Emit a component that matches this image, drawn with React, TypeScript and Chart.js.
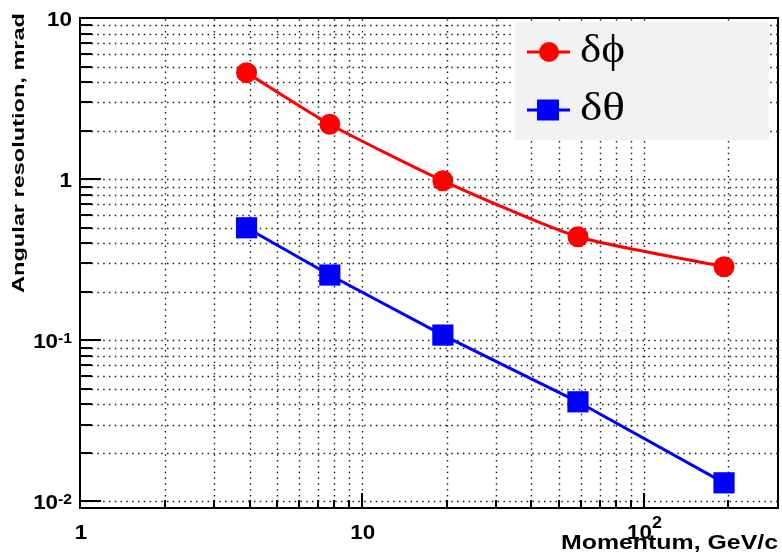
import React, { useEffect, useRef } from 'react';
import { Chart, registerables } from 'chart.js';

Chart.register(...registerables);

// ---- data ----
const momentum = [3.9, 7.7, 19.4, 58.5, 193];
const dPhi = [4.58, 2.19, 0.977, 0.439, 0.286];
const dTheta = [0.499, 0.254, 0.1077, 0.0415, 0.01304];
const seriesLabels = ['δϕ', 'δθ'];
const seriesColors = ['#ff0000', '#0000ff'];

const xTickValues = [1, 10, 100];
const xTickBase = ['1', '10', '10'];
const xTickSup = ['', '', '2'];
const yTickValues = [10, 1, 0.1, 0.01];
const yTickBase = ['10', '1', '10', '10'];
const yTickSup = ['', '', '-1', '-2'];

const xTitle = 'Momentum, GeV/c';
const yTitle = 'Angular resolution, mrad';

const X_MIN = 1;
const X_MAX = 300;
const Y_MIN = 0.0091;
const Y_MAX = 10;

const SANS = '"Liberation Sans", Arial, Helvetica, sans-serif';
const SERIF = '"Liberation Serif", "DejaVu Serif", "Times New Roman", serif';

function logGridValues(min: number, max: number): number[] {
  const out: number[] = [];
  for (let k = -4; k <= 4; k++) {
    for (let m = 1; m <= 9; m++) {
      const v = m * Math.pow(10, k);
      if (v > min * 1.0001 && v < max * 0.9999) out.push(v);
    }
  }
  return out;
}

function isMajor(v: number): boolean {
  const l = Math.log10(v);
  return Math.abs(l - Math.round(l)) < 1e-6;
}

function stretchedText(
  ctx: CanvasRenderingContext2D,
  text: string,
  font: string,
  x: number,
  y: number,
  targetWidth: number,
  rotate = 0
) {
  ctx.save();
  ctx.font = font;
  const w = ctx.measureText(text).width;
  ctx.translate(x, y);
  if (rotate) ctx.rotate(rotate);
  ctx.scale(targetWidth / w, 1);
  ctx.textAlign = 'left';
  ctx.textBaseline = 'alphabetic';
  ctx.fillStyle = '#000';
  ctx.fillText(text, 0, 0);
  ctx.restore();
}

const LABEL_SX = 1.12;

function tickLabelWidth(ctx: CanvasRenderingContext2D, base: string, sup: string, supPx: number) {
  ctx.font = `bold 20px ${SANS}`;
  let w = ctx.measureText(base).width;
  if (sup) {
    ctx.font = `bold ${supPx}px ${SANS}`;
    w += ctx.measureText(sup).width;
  }
  return w * LABEL_SX;
}

function drawTickLabel(
  ctx: CanvasRenderingContext2D,
  base: string,
  sup: string,
  left: number,
  baseline: number,
  supPx: number,
  supRaise: number
) {
  ctx.save();
  ctx.translate(left, baseline);
  ctx.scale(LABEL_SX, 1);
  ctx.fillStyle = '#000';
  ctx.textAlign = 'left';
  ctx.textBaseline = 'alphabetic';
  ctx.font = `bold 20px ${SANS}`;
  ctx.fillText(base, 0, 0);
  const bw = ctx.measureText(base).width;
  if (sup) {
    ctx.font = `bold ${supPx}px ${SANS}`;
    ctx.fillText(sup, bw, -supRaise);
  }
  ctx.restore();
}

const rootStylePlugin = {
  id: 'rootStyle',
  beforeDatasetsDraw(chart: any) {
    const ctx: CanvasRenderingContext2D = chart.ctx;
    const { left, right, top, bottom } = chart.chartArea;
    const xs = chart.scales.x;
    const ys = chart.scales.y;
    ctx.save();
    ctx.strokeStyle = '#1a1a1a';
    ctx.lineWidth = 1.4;
    ctx.setLineDash([1.5, 4.3]);
    for (const v of logGridValues(X_MIN, X_MAX)) {
      const px = Math.round(xs.getPixelForValue(v)) + 0.5;
      ctx.beginPath();
      ctx.moveTo(px, bottom);
      ctx.lineTo(px, top);
      ctx.stroke();
    }
    for (const v of logGridValues(Y_MIN, Y_MAX)) {
      const py = Math.round(ys.getPixelForValue(v)) + 0.5;
      ctx.beginPath();
      ctx.moveTo(left, py);
      ctx.lineTo(right, py);
      ctx.stroke();
    }
    ctx.restore();

    // legend box (covers grid)
    ctx.save();
    ctx.fillStyle = '#f2f2f2';
    ctx.fillRect(515, 22, 254, 118);
    ctx.restore();
  },
  afterDatasetsDraw(chart: any) {
    const ctx: CanvasRenderingContext2D = chart.ctx;
    const { left, right, top, bottom } = chart.chartArea;
    const xs = chart.scales.x;
    const ys = chart.scales.y;

    // legend entries
    const legendRows = [52, 110];
    seriesLabels.forEach((lab, i) => {
      const cy = legendRows[i];
      ctx.save();
      ctx.strokeStyle = seriesColors[i];
      ctx.fillStyle = seriesColors[i];
      ctx.lineWidth = 3;
      ctx.beginPath();
      ctx.moveTo(527, cy);
      ctx.lineTo(570, cy);
      ctx.stroke();
      if (i === 0) {
        ctx.beginPath();
        ctx.arc(549, cy, 10, 0, Math.PI * 2);
        ctx.fill();
      } else {
        ctx.fillRect(537, cy - 10.5, 22, 21);
      }
      ctx.restore();
      stretchedText(ctx, lab, `40px ${SERIF}`, 580, cy + 9.5, 45);
    });

    // frame
    ctx.save();
    ctx.strokeStyle = '#000';
    ctx.lineWidth = 2;
    ctx.setLineDash([]);
    ctx.strokeRect(left, top, right - left, bottom - top);

    // tick marks
    for (const v of logGridValues(Y_MIN, Y_MAX).concat(yTickValues)) {
      const py = Math.round(ys.getPixelForValue(v));
      if (py < top || py > bottom) continue;
      const len = isMajor(v) ? 21 : 12;
      ctx.beginPath();
      ctx.moveTo(left, py);
      ctx.lineTo(left + len, py);
      ctx.stroke();
    }
    for (const v of logGridValues(X_MIN, X_MAX).concat(xTickValues)) {
      const px = Math.round(xs.getPixelForValue(v));
      if (px < left || px > right) continue;
      const len = isMajor(v) ? 15 : 8;
      ctx.beginPath();
      ctx.moveTo(px, bottom);
      ctx.lineTo(px, bottom - len);
      ctx.stroke();
    }
    ctx.restore();

    // y tick labels (right aligned)
    yTickValues.forEach((v, i) => {
      const py = ys.getPixelForValue(v);
      const w = tickLabelWidth(ctx, yTickBase[i], yTickSup[i], 14);
      drawTickLabel(ctx, yTickBase[i], yTickSup[i], 72 - w, py + 7.5, 14, 5);
    });
    // x tick labels (centered)
    xTickValues.forEach((v, i) => {
      const px = xs.getPixelForValue(v);
      const w = tickLabelWidth(ctx, xTickBase[i], xTickSup[i], 16);
      drawTickLabel(ctx, xTickBase[i], xTickSup[i], px - w / 2 + 1, 539, 16, 11.5);
    });

    // axis titles
    stretchedText(ctx, xTitle, `bold 20px ${SANS}`, 561, 548.5, 217);
    stretchedText(ctx, yTitle, `bold 17px ${SANS}`, 24, 293, 280, -Math.PI / 2);
  },
};

export default function App() {
  const ref = useRef<HTMLCanvasElement | null>(null);
  useEffect(() => {
    if (!ref.current) return;
    const chart = new Chart(ref.current, {
      type: 'line',
      data: {
        datasets: [
          {
            label: seriesLabels[0],
            data: momentum.map((x, i) => ({ x, y: dPhi[i] })),
            borderColor: seriesColors[0],
            backgroundColor: seriesColors[0],
            borderWidth: 3,
            pointStyle: 'circle',
            pointRadius: 10.5,
            pointBorderWidth: 0,
            tension: 0.2,
          },
          {
            label: seriesLabels[1],
            data: momentum.map((x, i) => ({ x, y: dTheta[i] })),
            borderColor: seriesColors[1],
            backgroundColor: seriesColors[1],
            borderWidth: 3,
            pointStyle: 'rect',
            pointRadius: 15,
            pointBorderWidth: 0,
            tension: 0,
          },
        ],
      },
      options: {
        responsive: false,
        animation: false,
        events: [],
        layout: { autoPadding: false, padding: { left: 80, top: 18, right: 4, bottom: 47 } },
        plugins: {
          legend: { display: false },
          tooltip: { enabled: false },
          title: { display: false },
        },
        scales: {
          x: {
            type: 'logarithmic',
            min: X_MIN,
            max: X_MAX,
            ticks: { display: false },
            grid: { display: false },
            border: { display: false },
            afterFit: (s: any) => {
              s.height = 0;
            },
          },
          y: {
            type: 'logarithmic',
            min: Y_MIN,
            max: Y_MAX,
            ticks: { display: false },
            grid: { display: false },
            border: { display: false },
            afterFit: (s: any) => {
              s.width = 0;
            },
          },
        },
      } as any,
      plugins: [rootStylePlugin],
    });
    return () => chart.destroy();
  }, []);

  return (
    <div style={{ position: 'absolute', left: 0, top: 0, width: 782, height: 555, background: '#fff' }}>
      <canvas ref={ref} width={782} height={555} style={{ width: 782, height: 555, display: 'block' }} />
    </div>
  );
}
